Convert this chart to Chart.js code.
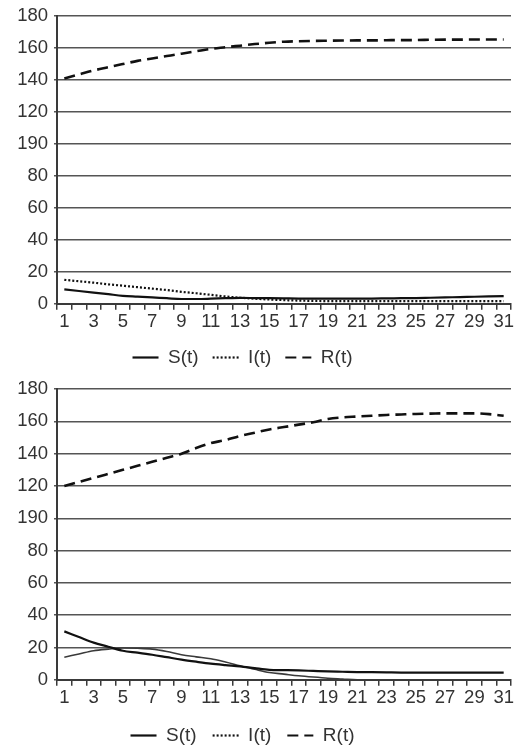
<!DOCTYPE html>
<html>
<head>
<meta charset="utf-8">
<script src="https://cdn.jsdelivr.net/npm/chart.js@4"></script>
<style>
  html, body { margin: 0; padding: 0; background: #ffffff; overflow: hidden; width: 520px; height: 751px; }
  #c1, #c2 { display: block; position: absolute; left: 0; }
  #c1 { top: -1px; }
  #c2 { top: 372px; }
</style>
</head>
<body>
<canvas id="c1" width="520" height="380"></canvas>
<canvas id="c2" width="520" height="383"></canvas>
<script>
// ---- categories (days) ----
const days = ['1','2','3','4','5','6','7','8','9','10','11','12','13','14','15','16','17','18','19','20','21','22','23','24','25','26','27','28','29','30','31'];
// ---- y tick labels (as printed in the original, incl. "190") ----
const yTickLabels = ['0','20','40','60','80','190','120','140','160','180'];
// ---- series names ----
const seriesNames = ['S(t)', 'I(t)', 'R(t)'];

// ---- top panel ----
const topS = [9,8,7,6,5,4.5,4,3.5,3,3,3.2,3.5,3.7,3.6,3.5,3.4,3.3,3.3,3.3,3.3,3.3,3.3,3.4,3.5,3.6,3.8,4,4.2,4.4,4.6,4.8];
const topI = [15,14.1,13.2,12.2,11.3,10.4,9.5,8.6,7.5,6.6,5.6,4.6,3.8,3.2,2.7,2.3,2,1.8,1.7,1.7,1.7,1.7,1.7,1.7,1.7,1.7,1.7,1.7,1.7,1.7,1.7];
const topR = [141,143.5,146,148,150,152,153.5,155,156.5,158,159.5,160.5,161.5,162.5,163.3,164,164.3,164.5,164.6,164.7,164.8,164.8,164.9,165,165,165.2,165.3,165.3,165.4,165.4,165.4];

// ---- bottom panel ----
const botS = [30,26.5,23,20.5,18,16.8,15.5,14,12.5,11.2,10,9.1,8.3,7.2,6.2,6,5.8,5.5,5.2,5,4.8,4.7,4.6,4.5,4.5,4.5,4.5,4.5,4.5,4.5,4.5];
const botI = [14,16,18,19,19.7,19.5,19,17.5,15.5,14.2,13,11,8.7,6.5,4.5,3.5,2.5,1.7,1,0.5,0,0,0,0,0,0,0,0,0,0,0];
const botR = [120,122.5,125,127.5,130,132.5,135,137.5,140,143.5,146.5,148.5,151,153,155,156.5,158,159.5,161.5,162.5,163,163.5,164,164.3,164.6,164.8,165,165,165,164.5,163.5];

const FONT = "'Liberation Sans', Arial, sans-serif";
const TXT = '#333333';
const dashS = [], dashI = [2, 2], dashR = [11, 6];

// shift the library legend's box a little to the left (the original legend is not centred on the canvas)
const legendShift = {
  id: 'legendShift',
  afterLayout(chart) { if (chart.legend) { chart.legend.right -= 26; } }
};

function makeChart(id, S, I, R, iSolid, pad, legendPad) {
  return new Chart(document.getElementById(id), {
    type: 'line',
    data: {
      labels: days,
      datasets: [
        { label: seriesNames[0], data: S, borderColor: '#111', borderWidth: 2.2, borderDash: dashS, pointRadius: 0, tension: 0.3, cubicInterpolationMode: 'monotone' },
        { label: seriesNames[1], data: I, borderColor: iSolid ? '#3a3a3a' : '#111', borderWidth: iSolid ? 1.6 : 2.2, borderDash: iSolid ? [] : dashI, pointRadius: 0, tension: 0.3, cubicInterpolationMode: 'monotone' },
        { label: seriesNames[2], data: R, borderColor: '#111', borderWidth: 2.6, borderDash: dashR, pointRadius: 0, tension: 0.3, cubicInterpolationMode: 'monotone' }
      ]
    },
    plugins: [legendShift],
    options: {
      responsive: false,
      animation: false,
      devicePixelRatio: 1,
      layout: { padding: pad },
      plugins: {
        tooltip: { enabled: false },
        legend: {
          position: 'bottom',
          labels: {
            usePointStyle: true,
            pointStyle: 'line',
            pointStyleWidth: 26,
            padding: legendPad,
            color: TXT,
            font: { family: FONT, size: 19 },
            generateLabels(chart) {
              const items = Chart.defaults.plugins.legend.labels.generateLabels(chart);
              items.forEach((it, i) => {
                it.pointStyle = 'line';
                it.strokeStyle = '#111';
                it.lineWidth = 2.2;
                it.lineDash = [dashS, dashI, dashR][i];
              });
              return items;
            }
          }
        }
      },
      scales: {
        x: {
          type: 'category',
          offset: true,
          grid: { drawOnChartArea: false, drawTicks: true, tickLength: 6, color: '#3a3a3a', lineWidth: 1.5, offset: true },
          border: { display: true, color: '#3a3a3a', width: 2 },
          ticks: {
            autoSkip: false, maxRotation: 0, minRotation: 0, padding: 1,
            color: TXT, font: { family: FONT, size: 18.5 },
            callback: (v, i) => (i % 2 === 0 ? days[i] : '')
          }
        },
        y: {
          min: 0, max: 180,
          afterFit(scale) { scale.width = 57; },
          grid: { color: '#555', lineWidth: 1.5, tickLength: 3, drawTicks: true },
          border: { display: true, color: '#3a3a3a', width: 2 },
          ticks: {
            stepSize: 20, padding: 6,
            color: TXT, font: { family: FONT, size: 18.5 },
            callback: (v) => yTickLabels[Math.round(v / 20)]
          }
        }
      }
    }
  });
}

makeChart('c1', topS, topI, topR, false, { left: 0, right: 9, top: 0, bottom: 2 }, 14);
makeChart('c2', botS, botI, botR, true, { left: 0, right: 9, top: 0, bottom: 0 }, 16);
</script>
</body>
</html>
